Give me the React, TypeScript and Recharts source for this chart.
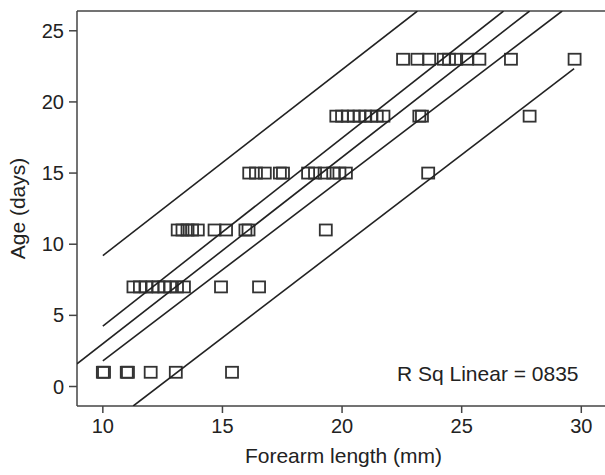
import React from 'react';
import {
  ScatterChart, Scatter, XAxis, YAxis, ReferenceLine,
} from 'recharts';

// age groups (days) and forearm lengths (mm) measured in each
const ages = [1, 7, 11, 15, 19, 23];
const day1 = [10.0, 10.05, 11.0, 11.05, 12.0, 13.05, 15.4];
const day7 = [11.28, 11.55, 11.81, 12.08, 12.33, 12.57, 12.81, 13.1, 13.39, 14.94, 16.53];
const day11 = [13.13, 13.33, 13.54, 13.73, 13.97, 14.67, 15.15, 15.96, 16.09, 19.32];
const day15 = [16.12, 16.4, 16.77, 17.4, 17.53, 18.58, 18.87, 19.27, 19.63, 19.89, 20.16, 23.6];
const day19 = [19.76, 20.0, 20.24, 20.49, 20.73, 20.97, 21.21, 21.45, 21.73, 23.23, 23.34, 27.84];
const day23 = [22.55, 23.15, 23.64, 24.25, 24.47, 24.77, 25.22, 25.74, 27.06, 29.72];
const lengthsByAge = [day1, day7, day11, day15, day19, day23];

// fit line + mean CI + prediction interval, as end points
const upperPI = [{ x: 10, y: 9.2 }, { x: 23.15, y: 26.39 }];
const upperCI = [{ x: 10, y: 4.25 }, { x: 26.75, y: 26.39 }];
const fitLine = [{ x: 8.92, y: 1.59 }, { x: 27.84, y: 26.39 }];
const lowerCI = [{ x: 10, y: 1.8 }, { x: 29.2, y: 26.39 }];
const lowerPI = [{ x: 11.27, y: -1.37 }, { x: 29.7, y: 22.34 }];

const xTicks = [10, 15, 20, 25, 30];
const yTicks = [0, 5, 10, 15, 20, 25];
const xDomain = [8.92, 31.2];
const yDomain = [-1.37, 26.39];

const points = ages.flatMap((age, i) => lengthsByAge[i].map(x => ({ x, y: age })));

const font = "'Liberation Sans', Arial, sans-serif";
const ink = '#222';

const Square = (props: any) => {
  const { cx, cy } = props;
  if (cx == null || cy == null) return <g />;
  return <rect x={cx - 6} y={cy - 5.5} width={12} height={11} fill="none" stroke="#333" strokeWidth={1.8} />;
};

const NoDot = () => <g />;

const App: React.FC = () => {
  const lines = [upperPI, upperCI, fitLine, lowerCI, lowerPI];
  return (
    <div style={{ position: 'absolute', left: 0, top: 0, width: 605, height: 475, overflow: 'hidden', fontFamily: font }}>
      <ScatterChart width={620} height={475} margin={{ top: 11, right: 10, bottom: 0, left: 0 }}>
        <XAxis
          type="number"
          dataKey="x"
          domain={xDomain}
          ticks={xTicks}
          allowDataOverflow
          height={69}
          tickSize={7}
          tickMargin={6}
          stroke="#444"
          strokeWidth={1.5}
          tick={{ fill: ink, fontSize: 20, fontFamily: font }}
          label={{ value: 'Forearm length (mm)', position: 'insideBottom', offset: 12, style: { fill: ink, fontSize: 21, fontFamily: font } }}
        />
        <YAxis
          type="number"
          dataKey="y"
          domain={yDomain}
          ticks={yTicks}
          allowDataOverflow
          width={77}
          tickSize={8}
          tickMargin={5}
          stroke="#444"
          strokeWidth={1.5}
          tick={{ fill: ink, fontSize: 20, fontFamily: font }}
          label={{ value: 'Age (days)', angle: -90, position: 'insideLeft', offset: 18, style: { textAnchor: 'middle', fill: ink, fontSize: 21, fontFamily: font } }}
        />
        <ReferenceLine y={yDomain[1]} stroke="#444" strokeWidth={1.5} />
        <ReferenceLine x={xDomain[1]} stroke="#444" strokeWidth={1.5} />
        <Scatter data={points} shape={Square} isAnimationActive={false} />
        {lines.map((seg, i) => (
          <Scatter
            key={i}
            data={seg}
            line={{ stroke: ink, strokeWidth: 1.6 }}
            lineType="joint"
            shape={NoDot}
            isAnimationActive={false}
          />
        ))}
        <text x={397} y={381} fill={ink} fontSize={21} fontFamily={font}>R Sq Linear = 0835</text>
      </ScatterChart>
    </div>
  );
};

export default App;
